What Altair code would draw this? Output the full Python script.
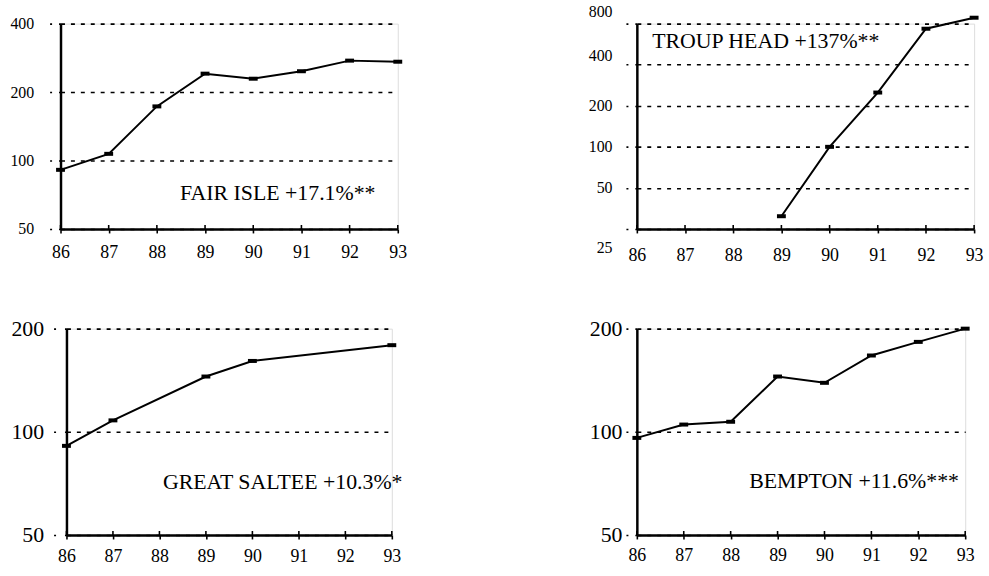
import altair as alt
import pandas as pd

# Years on the x axis (19xx)
YEARS = [86, 87, 88, 89, 90, 91, 92, 93]

# Population index per colony
fair_isle_years = [86, 87, 88, 89, 90, 91, 92, 93]
fair_isle = [91, 107, 173, 241, 229, 247, 275, 272]

troup_head_years = [89, 90, 91, 92, 93]
troup_head = [31, 100, 250, 734, 884]

great_saltee_years = [86, 87, 89, 90, 93]
great_saltee = [91, 108, 145, 161, 179]

bempton_years = [86, 87, 88, 89, 90, 91, 92, 93]
bempton = [96, 105, 107, 145, 139, 167, 183, 200]

# Panel labels with trend
labels = [
    "FAIR ISLE +17.1%**",
    "TROUP HEAD +137%**",
    "GREAT SALTEE +10.3%*",
    "BEMPTON +11.6%***",
]

FONT = "Liberation Serif"
MARKER = "M-1,-0.45L1,-0.45L1,0.45L-1,0.45Z"


def panel(years, values, label, ydomain, yticks, width, height,
          ylab_size, ylab_pad, ytick_size, xlab_pad, text_x, text_y,
          ylab_offset=0):
    df = pd.DataFrame({"year": years, "index": values})
    xscale = alt.Scale(domain=[86, 93], nice=False, zero=False)
    x = alt.X(
        "year:Q",
        scale=xscale,
        axis=alt.Axis(
            values=YEARS, format="d", title=None, grid=False,
            labelFont=FONT, labelFontSize=18, labelColor="black",
            labelPadding=xlab_pad, labelFlush=False,
            tickSize=4, tickWidth=1.6, tickColor="black",
            domainColor="black", domainWidth=2.5,
        ),
    )
    y = alt.Y(
        "index:Q",
        scale=alt.Scale(type="log", domain=ydomain, nice=False),
        axis=alt.Axis(
            values=yticks, format="d", title=None,
            grid=True, gridColor="black", gridWidth=1.6, gridDash=[4, 6],
            labelFont=FONT, labelFontSize=ylab_size, labelColor="black",
            labelPadding=ylab_pad, labelFlush=False, labelOffset=ylab_offset,
            tickSize=ytick_size, tickWidth=1.6, tickColor="black",
            tickDash=[2, ytick_size - 4],
            domainColor="black", domainWidth=2.5,
        ),
    )
    base = alt.Chart(df).encode(x=x, y=y)
    line = base.mark_line(color="black", strokeWidth=2)
    pts = base.mark_point(shape=MARKER, filled=True, color="black",
                          size=80, opacity=1)
    # small inward half of the year ticks, so they cross the axis line
    inner = alt.Chart(pd.DataFrame({"year": YEARS})).mark_rule(
        color="black", strokeWidth=1.6
    ).encode(
        x=alt.X("year:Q", scale=xscale),
        y=alt.value(height), y2=alt.value(height - 4),
    )
    txt = alt.Chart(pd.DataFrame({"t": [label]})).mark_text(
        font=FONT, fontSize=22, color="black", align="center",
        baseline="middle",
    ).encode(text="t:N", x=alt.value(text_x), y=alt.value(text_y))
    return alt.layer(line, inner, pts, txt).properties(
        width=width, height=height)


p1 = panel(fair_isle_years, fair_isle, labels[0], [50, 400],
           [50, 100, 200, 400], 340, 207, 16, 16, 11, 11, 219, 171)
p2 = panel(troup_head_years, troup_head, labels[1], [25, 800],
           [25, 50, 100, 200, 400, 800], 340, 207, 16, 14, 11, 14, 130, 18,
           ylab_offset=alt.ExprRef(
               "datum.value == 800 ? -12 : datum.value == 400 ? -9 : "
               "datum.value == 25 ? 19 : 0"))
p3 = panel(great_saltee_years, great_saltee, labels[2], [50, 200],
           [50, 100, 200], 328, 208, 22, 10, 13, 9, 218, 155)
p4 = panel(bempton_years, bempton, labels[3], [50, 200],
           [50, 100, 200], 331, 208, 22, 4, 11, 8, 219, 154)

chart = alt.concat(
    p1, p2, p3, p4, columns=2, spacing={"row": 100, "column": 241}
).properties(
    bounds="flush", center=True, align="all",
    padding={"left": 9, "top": 1, "right": 5, "bottom": 5},
).configure_view(stroke=None).configure(background="white")

chart.save("out.html", embed_options={"renderer": "svg", "actions": False})
